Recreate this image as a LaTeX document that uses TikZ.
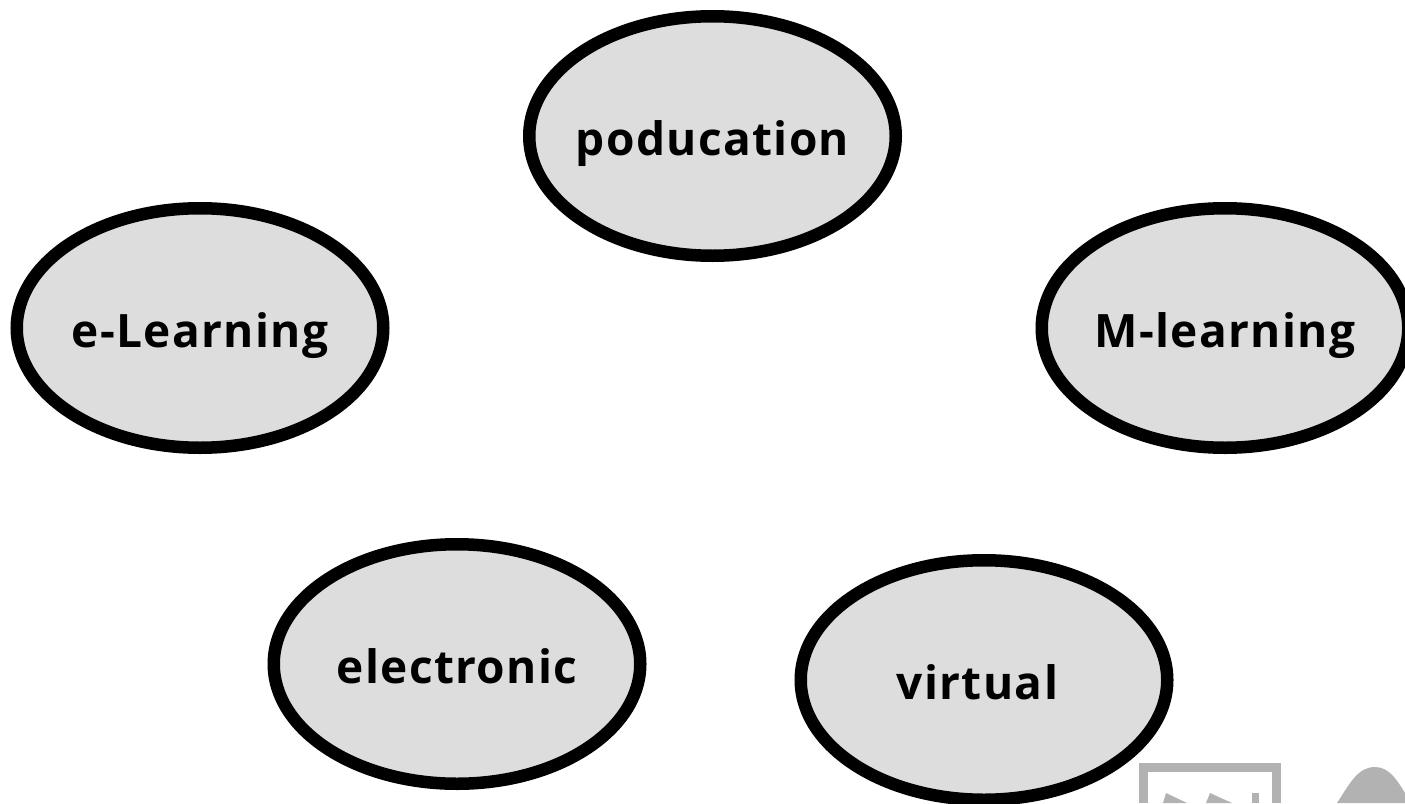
\documentclass[tikz,border=0pt]{standalone}
\usepackage{fontspec}
\setmainfont[LetterSpace=3]{Open Sans}
\definecolor{topicgray}{gray}{0.866}
\usetikzlibrary{shapes.geometric}
\newcommand{\topiclabel}[1]{\makebox[0pt]{#1}}
\tikzset{
    topicnode/.style={ellipse, draw=black, fill=topicgray, line width=12.5pt, minimum width=366.5pt, minimum height=239.5pt, inner sep=0pt, text height=38pt, text depth=0pt, font=\fontsize{46}{54}\selectfont\bfseries},
    markgray/.style={fill=black!30}
}
\begin{document}
\begin{tikzpicture}[x=1pt, y=-1pt]
    \useasboundingbox (0,0) rectangle (1405,803);
    \begin{scope}
    \clip (0,0) rectangle (1405,803);
    % The five topics
    \node[topicnode] (poducation) at (712.5,136) {\topiclabel{poducation}};
    \node[topicnode] (elearning) at (200,328) {\topiclabel{e-Learning}};
    \node[topicnode] (mlearning) at (1225,328) {\topiclabel{M-learning}};
    \node[topicnode] (electronic) at (457,664) {\topiclabel{electronic}};
    \node[topicnode] (virtual) at (984,680) {\topiclabel{virtual\hspace{13pt}}};

    % Cut-off mark in the corner
    \draw[black!30, line width=9pt] (1143.5,803) -- (1143.5,767.5) -- (1276,767.5) -- (1276,803);
    \fill[markgray] (1163,803) -- (1166,793) -- (1187,803) -- cycle;
    \fill[markgray] (1206,803) -- (1210,793) -- (1232,803) -- cycle;
    \fill[markgray] (1252,793) rectangle (1259,803);
    \fill[markgray] (1337,803) .. controls (1350,783) and (1358,767) .. (1375,767) .. controls (1390,767) and (1398,782) .. (1405,793) -- (1405,803) -- cycle;
    \end{scope}
\end{tikzpicture}
\end{document}
